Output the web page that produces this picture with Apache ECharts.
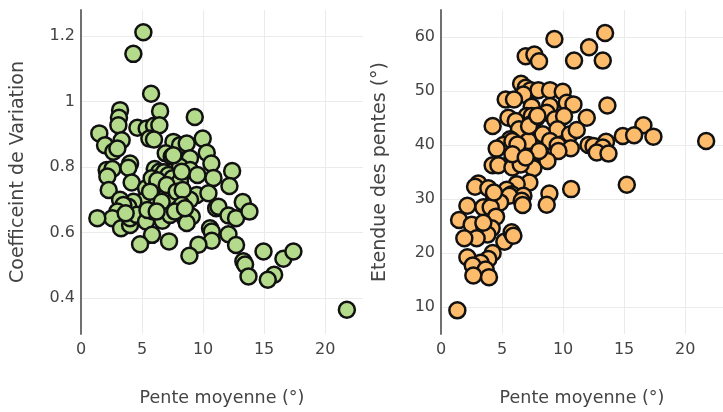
<!DOCTYPE html>
<html>
<head>
<meta charset="utf-8">
<script src="https://cdn.jsdelivr.net/npm/echarts@6/dist/echarts.min.js"></script>
<style>
  html, body { margin: 0; padding: 0; background: #fff; }
  #chart { width: 723px; height: 412px; }
</style>
</head>
<body>
<div id="chart"></div>
<script>
// Mean slope (°) and coefficient of variation, one entry per site
const slopeCv = [
  5.11, 4.29, 5.74, 6.48, 3.20, 3.11, 3.06, 9.32, 1.50, 4.62,
  5.38, 5.98, 6.42, 5.60, 5.98, 3.33, 1.97, 2.65, 2.98, 9.97,
  10.30, 7.57, 8.11, 8.66, 6.94, 7.43, 8.93, 10.68, 8.11, 8.93,
  6.04, 6.42, 6.80, 7.16, 7.49, 4.02, 3.88, 2.10, 2.57, 2.16,
  2.27, 4.15, 5.33, 5.79, 6.20, 6.48, 8.11, 9.54, 10.85, 12.38,
  12.16, 9.48, 10.44, 8.93, 7.02, 7.35, 7.70, 5.93, 4.97, 4.29,
  3.88, 3.20, 3.47, 2.98, 2.57, 1.34, 3.28, 4.02, 4.02, 4.56,
  5.33, 5.93, 6.67, 7.30, 7.84, 8.52, 9.07, 8.66, 11.07, 11.26,
  12.08, 12.70, 13.25, 13.80, 5.82, 4.84, 7.21, 10.57, 10.71, 10.71,
  9.62, 12.08, 12.70, 8.88, 13.30, 13.44, 13.72, 14.95, 15.82, 15.30,
  16.58, 17.40, 21.78, 3.66, 5.44, 6.26, 7.57, 8.25, 7.02, 7.84,
  5.66, 6.61, 8.33, 6.20, 8.25, 7.70, 8.52
];
const cvValues = [
  1.212, 1.146, 1.024, 0.971, 0.974, 0.951, 0.928, 0.953, 0.903, 0.920,
  0.918, 0.926, 0.928, 0.887, 0.884, 0.882, 0.867, 0.847, 0.857, 0.887,
  0.844, 0.877, 0.867, 0.872, 0.842, 0.832, 0.827, 0.811, 0.801, 0.791,
  0.794, 0.786, 0.784, 0.776, 0.766, 0.811, 0.798, 0.791, 0.794, 0.771,
  0.730, 0.753, 0.735, 0.766, 0.745, 0.733, 0.756, 0.776, 0.767, 0.788,
  0.742, 0.715, 0.720, 0.700, 0.715, 0.705, 0.700, 0.705, 0.694, 0.694,
  0.679, 0.700, 0.684, 0.664, 0.644, 0.644, 0.613, 0.623, 0.644, 0.654,
  0.634, 0.664, 0.636, 0.654, 0.669, 0.644, 0.649, 0.629, 0.674, 0.679,
  0.652, 0.644, 0.693, 0.664, 0.593, 0.564, 0.573, 0.613, 0.603, 0.575,
  0.563, 0.595, 0.562, 0.529, 0.512, 0.502, 0.466, 0.542, 0.471, 0.456,
  0.520, 0.542, 0.364, 0.659, 0.669, 0.760, 0.836, 0.786, 0.745, 0.725,
  0.725, 0.694, 0.730, 0.664, 0.684, 0.664, 0.674
];

// Mean slope (°) and slope range (°), one entry per site
const slopeRange = [
  1.34, 13.44, 9.29, 12.13, 6.94, 7.65, 8.03, 10.90, 13.25, 6.56,
  6.94, 7.35, 7.98, 8.93, 9.97, 6.75, 5.30, 5.98, 10.30, 10.85,
  13.63, 7.43, 8.93, 8.66, 5.52, 7.02, 7.43, 7.84, 9.34, 10.08,
  11.94, 6.12, 7.35, 4.23, 7.70, 8.33, 9.54, 10.57, 11.12, 6.39,
  16.58, 14.89, 15.82, 17.40, 21.72, 5.66, 7.16, 8.93, 12.08, 12.49,
  13.52, 13.25, 5.11, 4.56, 9.56, 10.63, 6.20, 8.11, 5.93, 9.62,
  12.76, 13.72, 6.94, 5.80, 8.72, 4.23, 4.70, 5.85, 7.57, 7.24,
  6.20, 3.06, 2.79, 3.88, 10.66, 15.22, 5.38, 5.79, 6.75, 8.88,
  5.60, 4.34, 4.84, 6.61, 6.69, 8.66, 2.16, 3.47, 4.07, 1.48,
  4.51, 2.51, 3.52, 4.15, 3.80, 2.92, 1.91, 5.19, 5.79, 5.93,
  4.23, 2.16, 3.88, 3.25, 2.60, 3.66, 2.65, 3.93, 7.21, 7.90,
  5.85, 6.26, 8.03, 6.53, 5.85, 6.94, 4.34, 3.47
];
const rangeValues = [
  9.38, 60.74, 59.63, 58.09, 56.43, 56.74, 55.51, 55.63, 55.63, 51.33,
  50.60, 50.16, 50.16, 50.16, 49.85, 49.36, 48.44, 48.44, 47.82, 47.52,
  47.33, 47.10, 47.20, 45.98, 45.06, 45.36, 45.36, 45.06, 44.75, 45.36,
  45.06, 44.44, 43.82, 43.52, 42.29, 41.98, 42.90, 41.98, 42.78, 42.90,
  43.64, 41.67, 41.79, 41.55, 40.75, 41.06, 40.75, 40.75, 40.00, 39.83,
  40.60, 39.52, 40.00, 39.33, 39.95, 39.40, 39.83, 38.60, 38.30, 38.90,
  38.60, 38.41, 37.37, 37.06, 37.06, 36.26, 36.26, 35.83, 35.71, 33.06,
  32.75, 32.87, 32.26, 32.00, 31.83, 32.63, 31.72, 30.90, 30.60, 31.00,
  30.60, 29.99, 29.37, 29.68, 28.88, 28.94, 28.76, 28.45, 28.45, 26.10,
  26.73, 25.25, 25.19, 24.58, 23.41, 22.73, 22.73, 22.10, 23.84, 23.20,
  20.00, 19.20, 18.90, 18.18, 17.70, 16.95, 15.84, 15.53, 43.50, 45.40,
  40.75, 40.10, 38.90, 36.40, 38.30, 37.70, 31.20, 25.60
];

const xTitle = 'Pente moyenne (°)';
const yTitleCv = 'Coefficeint de Variation';
const yTitleRange = 'Etendue des pentes (°)';

const FONT = 'DejaVu Sans, Verdana, sans-serif';
const TEXT = '#444';
const GRID_LINE = '#ebebeb';

function pairs(xs, ys) {
  return xs.map((x, i) => [x, ys[i]]);
}

function xAxisFor(gridIndex) {
  return {
    type: 'value',
    gridIndex,
    min: 0,
    max: 23.1,
    splitNumber: 5,
    name: xTitle,
    nameLocation: 'middle',
    nameGap: 55,
    nameTextStyle: { color: TEXT, fontSize: 17.5, fontFamily: FONT },
    axisLine: { show: false },
    axisTick: { show: false },
    axisLabel: { color: TEXT, fontSize: 16, fontFamily: FONT, margin: 8, showMaxLabel: false },
    splitLine: { show: true, showMinLine: false, showMaxLine: false, lineStyle: { color: GRID_LINE, width: 1 } }
  };
}

function yAxisFor(gridIndex, min, max, name, gap) {
  return {
    type: 'value',
    gridIndex,
    min,
    max,
    splitNumber: 5,
    name,
    nameLocation: 'middle',
    nameGap: gap,
    nameTextStyle: { color: TEXT, fontSize: 19, fontFamily: FONT },
    axisLine: { show: true, lineStyle: { color: '#707070', width: 2 } },
    axisTick: { show: false },
    axisLabel: { color: TEXT, fontSize: 16, fontFamily: FONT, margin: 6, showMinLabel: false, showMaxLabel: false },
    splitLine: { show: true, showMinLine: false, showMaxLine: false, lineStyle: { color: GRID_LINE, width: 1 } }
  };
}

function scatter(index, data, color) {
  return {
    type: 'scatter',
    xAxisIndex: index,
    yAxisIndex: index,
    data,
    symbol: 'circle',
    symbolSize: 16,
    itemStyle: { color, borderColor: '#111', borderWidth: 2.5, opacity: 1 },
    emphasis: { disabled: true },
    silent: true
  };
}

const chart = echarts.init(document.getElementById('chart'), null, { renderer: 'canvas' });
chart.setOption({
  backgroundColor: '#fff',
  animation: false,
  textStyle: { fontFamily: FONT },
  grid: [
    { left: 81, top: 10, width: 282, height: 325, containLabel: false },
    { left: 441, top: 10, width: 282, height: 325, containLabel: false }
  ],
  xAxis: [xAxisFor(0), xAxisFor(1)],
  yAxis: [
    yAxisFor(0, 0.29, 1.28, yTitleCv, 53),
    yAxisFor(1, 5, 65, yTitleRange, 51)
  ],
  series: [
    scatter(0, pairs(slopeCv, cvValues), '#b4da8b'),
    scatter(1, pairs(slopeRange, rangeValues), '#fdbb6c')
  ]
});
</script>
</body>
</html>
